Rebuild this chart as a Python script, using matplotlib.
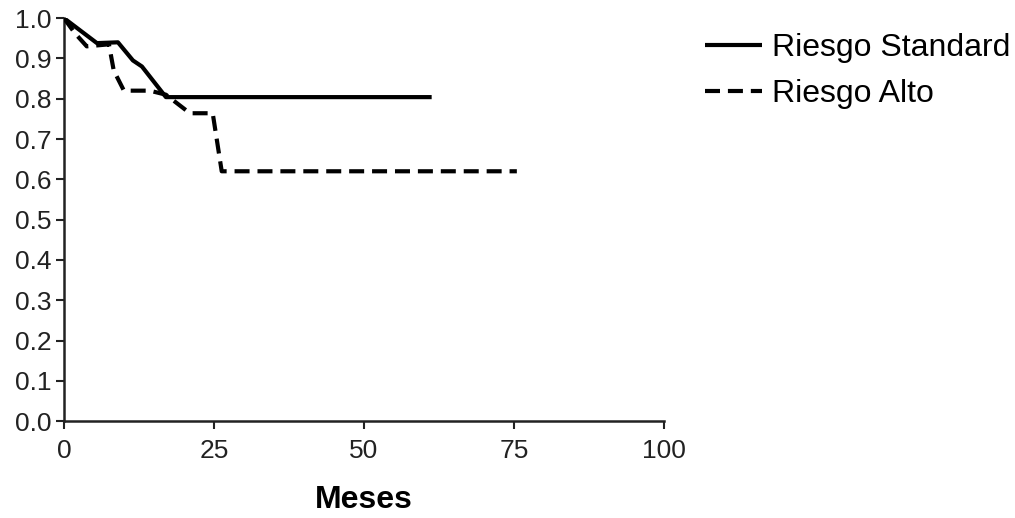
import matplotlib.pyplot as plt
import numpy as np

plt.rcParams['font.family'] = ['Liberation Sans', 'DejaVu Sans']

# curves (meses, supervivencia)
t_std = [0, 5.5, 9.0, 11.5, 13.0, 17.0, 61.3]
s_std = [1.0, 0.938, 0.94, 0.895, 0.88, 0.804, 0.804]

t_alto = [0, 1.8, 3.8, 7.5, 8.3, 10.0, 14.3, 17.0, 21.0, 24.8, 26.3, 75.5]
s_alto = [1.0, 0.963, 0.93, 0.935, 0.87, 0.82, 0.82, 0.81, 0.764, 0.764, 0.62, 0.62]

labels = ['Riesgo Standard', 'Riesgo Alto']
xticks = [0, 25, 50, 75, 100]
yticks = np.round(np.arange(0, 1.01, 0.1), 1)

fig = plt.figure(figsize=(10.15, 5.18), dpi=100)
ax = fig.add_axes([0.063, 0.187, 0.591, 0.778])

ax.plot(t_std, s_std, color='black', lw=3, solid_capstyle='butt', label=labels[0])
ax.plot(t_alto, s_alto, color='black', lw=3, linestyle=(0, (3.6, 1.9)), label=labels[1])

ax.set_xlim(0, 100)
ax.set_ylim(0, 1.0)
ax.set_xticks(xticks)
ax.set_yticks(yticks)
ax.set_yticklabels(['{:.1f}'.format(v) for v in yticks])
ax.tick_params(labelsize=19, length=6, width=1.5, direction='out', colors='#222222', pad=3)
ax.tick_params(axis='x', pad=7)
for s in ['top', 'right']:
    ax.spines[s].set_visible(False)
for s in ['left', 'bottom']:
    ax.spines[s].set_linewidth(1.8)
    ax.spines[s].set_color('#222222')
ax.spines['left'].set_zorder(0)

ax.set_xlabel('Meses', fontsize=23, fontweight='bold', labelpad=16)

ax.legend(loc='upper left', bbox_to_anchor=(0.6946, 0.936), bbox_transform=fig.transFigure,
          frameon=False, fontsize=23, handlelength=1.79, handletextpad=0.31,
          labelspacing=0.5, borderpad=0, borderaxespad=0)

fig.savefig('out.png', dpi=100)
